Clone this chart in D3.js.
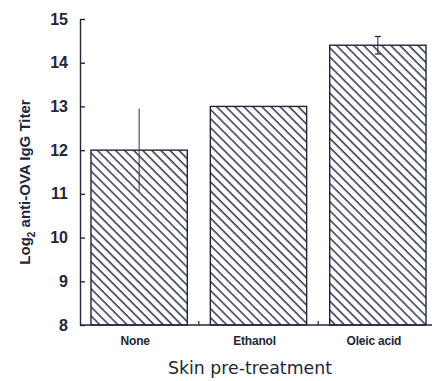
<!DOCTYPE html>
<html>
<head>
<meta charset="utf-8">
<script src="https://cdn.jsdelivr.net/npm/d3@7/dist/d3.min.js"></script>
<style>
  html, body { margin: 0; padding: 0; background: #fff; }
  svg { display: block; }
</style>
</head>
<body>
<svg id="chart" width="432" height="381"></svg>
<script>
// Log2 anti-OVA IgG titer by skin pre-treatment
const categories = ["None", "Ethanol", "Oleic acid"];
const titers = [12.0, 13.0, 14.4];
const errors = [0.95, 0, 0.2];
const yTicks = [8, 9, 10, 11, 12, 13, 14, 15];

const ink = "#23263a";
const svg = d3.select("#chart");

const x = d3.scaleBand()
  .domain(categories)
  .range([80, 437])
  .paddingInner(0.193)
  .paddingOuter(0.092);

const y = d3.scaleLinear().domain([8, 15]).range([325, 19]);

// diagonal hatch fill
const defs = svg.append("defs");
const pat = defs.append("pattern")
  .attr("id", "hatch")
  .attr("patternUnits", "userSpaceOnUse")
  .attr("width", 6.4)
  .attr("height", 6.4)
  .attr("patternTransform", "rotate(-45)");
pat.append("rect").attr("width", 6.4).attr("height", 6.4).attr("fill", "#fff");
pat.append("line")
  .attr("x1", 1).attr("y1", 0).attr("x2", 1).attr("y2", 6.4)
  .attr("stroke", ink).attr("stroke-width", 1.4);

// bars
svg.append("g").selectAll("rect")
  .data(categories)
  .join("rect")
  .attr("x", d => x(d))
  .attr("y", (d, i) => y(titers[i]))
  .attr("width", x.bandwidth())
  .attr("height", (d, i) => y(8) - y(titers[i]))
  .attr("fill", "url(#hatch)")
  .attr("stroke", ink)
  .attr("stroke-width", 1.4);

// error bars
const eb = svg.append("g");
categories.forEach((c, i) => {
  if (!errors[i]) return;
  const cx = x(c) + x.bandwidth() / 2;
  const col = i === 0 ? "#4a2a3a" : ink;
  eb.append("line")
    .attr("x1", cx).attr("x2", cx)
    .attr("y1", y(titers[i] + errors[i])).attr("y2", y(titers[i] - errors[i]))
    .attr("stroke", col).attr("stroke-width", 1);
  if (i === 2) {
    [titers[i] + errors[i], titers[i] - errors[i]].forEach(v => {
      eb.append("line")
        .attr("x1", cx - 3).attr("x2", cx + 3)
        .attr("y1", y(v)).attr("y2", y(v))
        .attr("stroke", col).attr("stroke-width", 1.2);
    });
  }
});

// y axis with inward ticks
const yAxis = svg.append("g")
  .attr("transform", "translate(80,0)")
  .call(d3.axisLeft(y).tickValues(yTicks).tickFormat(d3.format("d"))
    .tickSizeInner(-5).tickSizeOuter(0).tickPadding(12));
yAxis.select(".domain").attr("stroke", ink).attr("stroke-width", 1.4);
yAxis.selectAll(".tick line").attr("stroke", ink).attr("stroke-width", 1.4);
yAxis.selectAll(".tick text")
  .attr("fill", ink)
  .style("font-family", "Liberation Sans, Arial, sans-serif")
  .style("font-size", "16px")
  .style("font-weight", "bold");

// x axis baseline, short separators between categories
svg.append("line")
  .attr("x1", 80).attr("x2", 432)
  .attr("y1", y(8)).attr("y2", y(8))
  .attr("stroke", ink).attr("stroke-width", 1.4);
const seps = categories.slice(1).map(c => x(c) - x.step() * x.paddingInner() / 2);
svg.append("g").selectAll("line")
  .data(seps)
  .join("line")
  .attr("x1", d => d).attr("x2", d => d)
  .attr("y1", y(8)).attr("y2", y(8) - 4)
  .attr("stroke", ink).attr("stroke-width", 1.2);

// category labels
svg.append("g").selectAll("text")
  .data(categories)
  .join("text")
  .attr("x", d => x(d) + x.bandwidth() / 2 - 4)
  .attr("y", 345)
  .attr("text-anchor", "middle")
  .attr("fill", ink)
  .style("font-family", "Liberation Sans, Arial, sans-serif")
  .style("font-size", "12px")
  .style("font-weight", "bold")
  .style("letter-spacing", "-0.2px")
  .text(d => d);

// axis titles
svg.append("text")
  .attr("x", 250).attr("y", 374)
  .attr("text-anchor", "middle")
  .attr("fill", ink)
  .style("font-family", "DejaVu Sans, sans-serif")
  .style("font-size", "17px")
  .attr("textLength", 164)
  .attr("lengthAdjust", "spacingAndGlyphs")
  .text("Skin pre-treatment");

const yt = svg.append("text")
  .attr("transform", "translate(30,182) rotate(-90)")
  .attr("text-anchor", "middle")
  .attr("fill", ink)
  .style("font-family", "Liberation Sans, Arial, sans-serif")
  .style("font-size", "15px")
  .style("font-weight", "bold");
yt.append("tspan").text("Log");
yt.append("tspan").attr("dy", 5).style("font-size", "10px").text("2");
yt.append("tspan").attr("dy", -5).text(" anti-OVA IgG Titer");
</script>
</body>
</html>
